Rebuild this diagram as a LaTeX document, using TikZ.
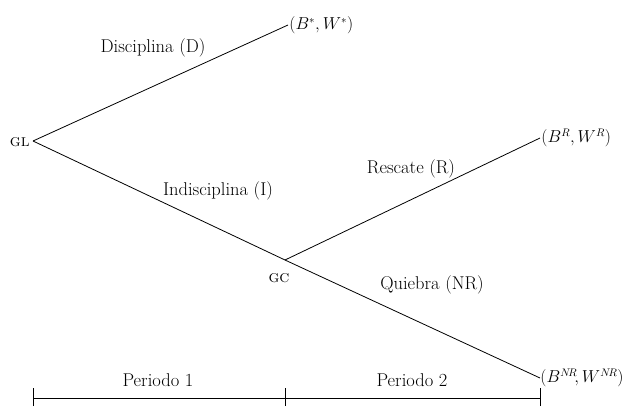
\documentclass[tikz,border=0pt]{standalone}
\usepackage{amsmath}
\usepackage{tikz}

\begin{document}
\begin{tikzpicture}[x=1pt,y=-1pt,line width=0.8pt,
  lbl/.style={font=\fontsize{18.5}{22}\selectfont},
  pay/.style={font=\fontsize{16}{20}\selectfont,anchor=west,inner sep=1pt},
  who/.style={font=\fontsize{17}{20}\selectfont\scshape,inner sep=1pt}]
\useasboundingbox (0,0) rectangle (624,413);
% nodos de decision
\coordinate (gl) at (33,141);
\coordinate (gc) at (285,260);
\coordinate (d) at (288,25);
\coordinate (r) at (540,138);
\coordinate (nr) at (540,378);
\node [who,anchor=east] (glt) at (31,142) {gl};
\node [who] (gct) at (279,278) {gc};
% ramas
\draw (gl) -- (d);
\draw (gl) -- (gc);
\draw (gc) -- (r);
\draw (gc) -- (nr);
\node [pay] (pd) at (d) {$(B^{*},W^{*})$};
\node [pay] (pr) at (r) {$(B^{R},W^{R})$};
\node [pay,inner sep=0pt] (pnr) at (nr) {$(B^{N\!R}\!,W^{N\!R})$};
\node [lbl] (ld) at (153,48) {Disciplina (D)};
\node [lbl] (li) at (218,191) {Indisciplina (I)};
\node [lbl] (lr) at (411,169) {Rescate (R)};
\node [lbl] (lnr) at (432,285) {Quiebra (NR)};
% periodos
\coordinate (t0) at (33,398);
\coordinate (t1) at (285,398);
\coordinate (t2) at (540,398);
\draw (t0) -- (t2);
\foreach \t in {t0,t1,t2}
  \draw ([yshift=-8pt]\t) -- ([yshift=10pt]\t);
\node [lbl] (p1) at (158,380) {Periodo 1};
\node [lbl] (p2) at (412,380) {Periodo 2};
\end{tikzpicture}
\end{document}
